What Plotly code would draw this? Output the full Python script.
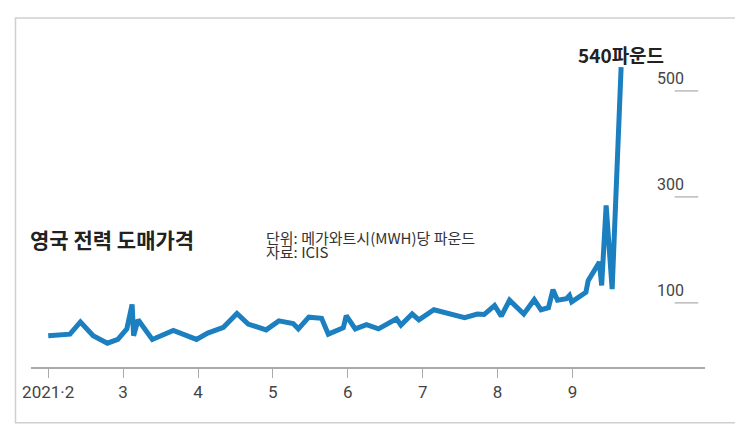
import plotly.graph_objects as go

# months since 2021-02-01
months = [0.00,0.29,0.43,0.60,0.79,0.93,1.05,1.12,1.14,1.20,1.39,1.67,1.98,2.13,2.34,2.52,2.67,2.91,
          3.08,3.27,3.34,3.48,3.65,3.74,3.94,3.98,4.10,4.25,4.41,4.65,4.71,4.86,4.95,5.15,5.56,5.73,
          5.82,5.96,6.05,6.16,6.35,6.49,6.58,6.68,6.74,6.80,6.92,6.96,6.99,7.18,7.21,7.36,7.39,7.45,7.53,7.65]
prices = [38,41,64,38,24,31,51,97,38,68,31,48,31,43,54,80,60,49,
          66,61,51,73,71,41,53,76,51,59,51,70,58,79,68,87,72,79,
          78,95,75,105,79,106,87,91,125,105,108,114,102,120,142,177,133,284,126,545]
tick_pos = [0,1,2,3,4,5,6,7]
tick_text = ["2021·2","3","4","5","6","7","8","9"]
y_ticks = [100,300,500]

font = "Liberation Sans Narrow, Roboto, sans-serif"
fig = go.Figure(go.Scatter(x=months, y=prices, mode="lines",
                           line=dict(color="#1b7fc0", width=5), hoverinfo="skip"))

shapes = [dict(type="rect", xref="paper", yref="paper", x0=-0.023, x1=1.056, y0=-0.17, y1=1.064,
               line=dict(color="#cfcfcf", width=1.5))]
ann = []
for v in y_ticks:
    shapes.append(dict(type="line", xref="paper", yref="y", x0=0.955, x1=0.99, y0=v, y1=v,
                       line=dict(color="#aaaaaa", width=1.2)))
    ann.append(dict(xref="paper", yref="y", x=0.972, y=v, yanchor="bottom", yshift=1, text=str(v),
                    showarrow=False, font=dict(family=font, size=16, color="#444")))
ann += [
    dict(xref="paper", yref="paper", x=-0.005, y=0.39, xanchor="left", text="<b>영국 전력 도매가격</b>",
         showarrow=False, font=dict(family="Noto Sans CJK KR", size=21, color="#222")),
    dict(xref="paper", yref="paper", x=0.345, y=0.395, xanchor="left", text="단위: 메가와트시(MWH)당 파운드",
         showarrow=False, font=dict(family="Noto Sans CJK KR", size=15, color="#333")),
    dict(xref="paper", yref="paper", x=0.345, y=0.315, xanchor="left", text="자료: ICIS",
         showarrow=False, font=dict(family="Noto Sans CJK KR", size=15, color="#333")),
    dict(xref="x", yref="paper", x=7.65, y=1.0, text="<b>540파운드</b>", xanchor="center",
         showarrow=False, font=dict(family="Noto Sans CJK KR", size=19, color="#222")),
]
fig.update_layout(width=743, height=427, margin=dict(l=23, r=46, t=31, b=68, autoexpand=False),
                  paper_bgcolor="white", plot_bgcolor="white", showlegend=False,
                  shapes=shapes, annotations=ann)
fig.update_xaxes(range=[-0.23, 8.77], tickvals=tick_pos, ticktext=tick_text, showgrid=False,
                 showline=True, linecolor="#aaaaaa", linewidth=1.5, ticks="outside", ticklen=9,
                 tickcolor="#aaaaaa", tickfont=dict(family=font, size=17, color="#444"), zeroline=False)
fig.update_yaxes(range=[-21, 598], visible=False)
fig.write_html("out.html")
